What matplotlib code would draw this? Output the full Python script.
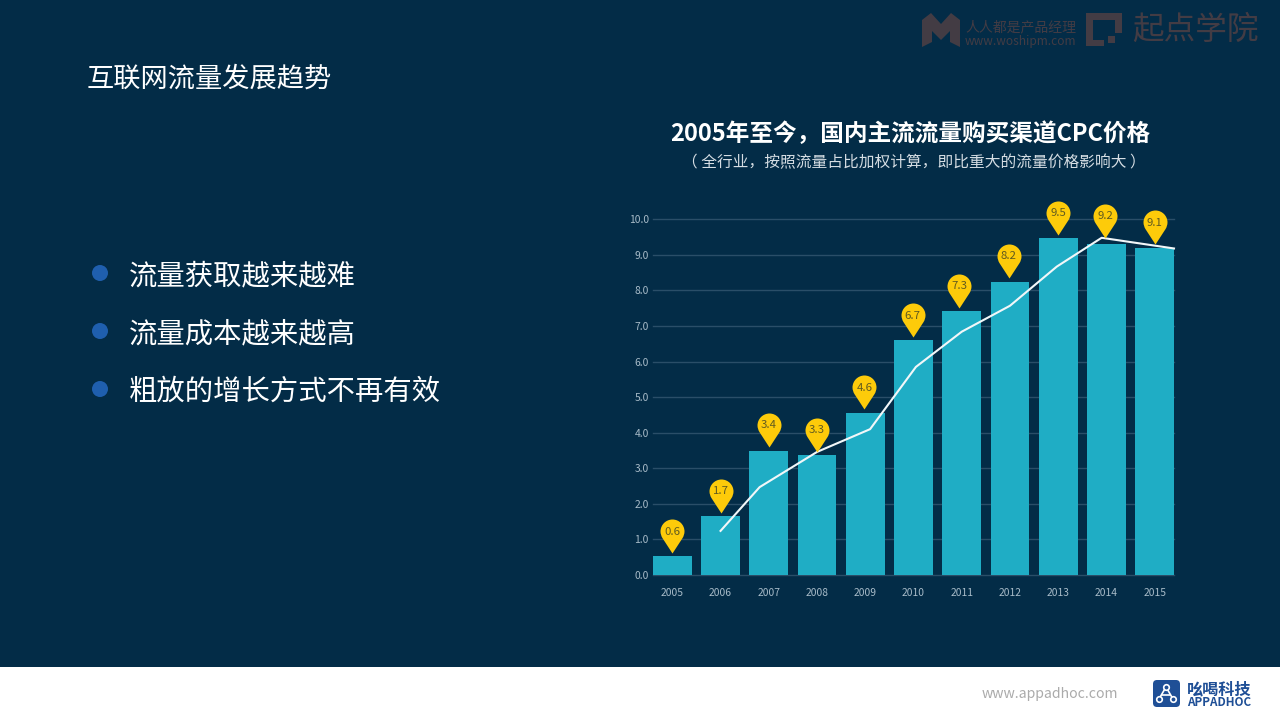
import matplotlib
matplotlib.use("Agg")
import matplotlib.pyplot as plt
from matplotlib.patches import Rectangle, Circle, FancyBboxPatch, Polygon
from matplotlib.path import Path

plt.rcParams['font.family'] = ['Noto Sans CJK SC', 'DejaVu Sans']

W, H = 1280, 720
BG = "#032c47"
BROWN = "#433c44"
LOGO = "#1f4f96"

# chart data
years = [2005, 2006, 2007, 2008, 2009, 2010, 2011, 2012, 2013, 2014, 2015]
bar_values = [0.53, 1.65, 3.49, 3.36, 4.56, 6.60, 7.43, 8.24, 9.47, 9.30, 9.18]
pin_labels = ["0.6", "1.7", "3.4", "3.3", "4.6", "6.7", "7.3", "8.2", "9.5", "9.2", "9.1"]
pin_years = [2005, 2006, 2007, 2008, 2008.98, 2009.98, 2010.95, 2011.97, 2013, 2013.98, 2015]
pin_tops = [0.61, 1.75, 3.60, 3.47, 4.66, 6.69, 7.52, 8.35, 9.56, 9.48, 9.30]
line_years = [2006, 2006.81, 2008, 2009.1, 2010.05, 2011, 2012, 2012.97, 2013.9, 2015.4]
line_values = [1.24, 2.47, 3.46, 4.10, 5.85, 6.84, 7.57, 8.67, 9.48, 9.18]
y_ticks = [0, 1, 2, 3, 4, 5, 6, 7, 8, 9, 10]

bullets = ["流量获取越来越难", "流量成本越来越高", "粗放的增长方式不再有效"]
bullet_rows = [273, 331, 389]


def px(x, y):
    return x / W, 1 - y / H


def put(x, y, s, **kw):
    fx, fy = px(x, y)
    kw.setdefault("va", "center")
    fig.text(fx, fy, s, **kw)


def add_poly(points, color):
    fig.add_artist(Polygon([px(*p) for p in points], closed=True, color=color,
                           transform=fig.transFigure, lw=0))


fig = plt.figure(figsize=(W / 100, H / 100), dpi=100, facecolor=BG)

# white footer
fig.add_artist(Rectangle((0, 0), 1, (H - 667) / H, color="white", transform=fig.transFigure, lw=0))

# slide text
put(87, 79, "互联网流量发展趋势", color="white", fontsize=19.6)
canvas = fig.add_axes([0, 0, 1, 1], zorder=3)
canvas.set_xlim(0, W)
canvas.set_ylim(H, 0)
canvas.axis("off")
for row, s in zip(bullet_rows, bullets):
    canvas.add_patch(Circle((100, row), 8, color="#1f5fae", lw=0))
    put(129, row + 3, s, color="white", fontsize=20.4)

# chart heading
put(910, 134, "2005年至今，国内主流流量购买渠道CPC价格", color="white", fontsize=17.0,
    fontweight="bold", ha="center")
put(914, 163, "（ 全行业，按照流量占比加权计算，即比重大的流量价格影响大 ）", color="#d5dde3",
    fontsize=11.3, ha="center")

# chart
ax = fig.add_axes([653 / W, (H - 575) / H, 521 / W, (575 - 219.3) / H])
ax.set_facecolor("none")
ax.set_xlim(2005 - 0.4, 2015 + 0.4)
ax.set_ylim(0, 10)
for side in ax.spines:
    ax.spines[side].set_visible(False)
ax.set_yticks(y_ticks)
ax.set_yticklabels([f"{t:.1f}" for t in y_ticks])
ax.set_xticks(years)
ax.tick_params(length=0, labelcolor="#a9bcc9", labelsize=7.4)
ax.tick_params(axis="y", pad=3)
ax.tick_params(axis="x", pad=9)
ax.grid(axis="y", color="#2a4e68", lw=1.0, clip_on=False)
ax.set_axisbelow(True)

ax.bar(years, bar_values, width=0.8, color="#1fadc5", zorder=2)
ax.plot(line_years, line_values, color="#f2f7f9", lw=1.5, zorder=3, clip_on=False)

# pin marker with the tip at the origin
k = 0.5523
pin = Path(
    [(0, 0), (-10.06, 15.45), (-12, 18.5), (-12, 22),
     (-12, 22 + 12 * k), (-12 * k, 34), (0, 34),
     (12 * k, 34), (12, 22 + 12 * k), (12, 22),
     (12, 18.5), (10.06, 15.45), (0, 0), (0, 0)],
    [Path.MOVETO, Path.LINETO, Path.CURVE3, Path.CURVE3,
     Path.CURVE4, Path.CURVE4, Path.CURVE4,
     Path.CURVE4, Path.CURVE4, Path.CURVE4,
     Path.CURVE3, Path.CURVE3, Path.LINETO, Path.CLOSEPOLY])
# marker area scales with the path box, 34 px tall at 100 dpi
ax.scatter(pin_years, pin_tops, marker=pin, s=(34 * 2 * 0.72) ** 2, color="#fdcb0a", lw=0,
           zorder=4, clip_on=False)
for x, y, s in zip(pin_years, pin_tops, pin_labels):
    ax.annotate(s, (x, y), xytext=(0, 21.5 * 0.72), textcoords="offset points", ha="center",
                va="center", fontsize=8.2, color="#5f5a20", zorder=5, annotation_clip=False)

# watermark top right
add_poly([(922, 20), (931, 13), (941, 24), (951, 13), (960, 20), (960, 47), (950, 42), (950, 31),
          (941, 40), (932, 31), (932, 42), (922, 47)], BROWN)
put(965, 27, "人人都是产品经理", color=BROWN, fontsize=10)
put(965, 41, "www.woshipm.com", color=BROWN, fontsize=8.6)
add_poly([(1086, 13), (1122, 13), (1122, 33), (1115, 33), (1115, 20), (1093, 20), (1093, 40),
          (1104, 40), (1104, 46), (1086, 46)], BROWN)
add_poly([(1108, 36), (1115, 36), (1115, 43), (1108, 43)], BROWN)
put(1132, 30, "起点学院", color=BROWN, fontsize=22.8)

# footer
put(982, 694, "www.appadhoc.com", color="#ababab", fontsize=10.15)
canvas.add_patch(FancyBboxPatch((1153, 680), 27, 27, boxstyle="round,pad=0,rounding_size=4", lw=0,
                                color=LOGO))
canvas.plot([1159, 1166, 1173], [699, 687, 699], color="white", lw=1.2)
canvas.plot([1162, 1170], [695, 695], color="white", lw=1.2)
canvas.plot([1166, 1159, 1173], [687, 699, 699], "o", mfc=LOGO, mec="white", mew=1.2, ms=4)
put(1187, 689, "吆喝科技", color=LOGO, fontsize=11.6, fontweight="bold")
put(1187, 702, "APPADHOC", color=LOGO, fontsize=8.4, fontweight="bold")

fig.savefig("out.png", dpi=100, facecolor=BG)
